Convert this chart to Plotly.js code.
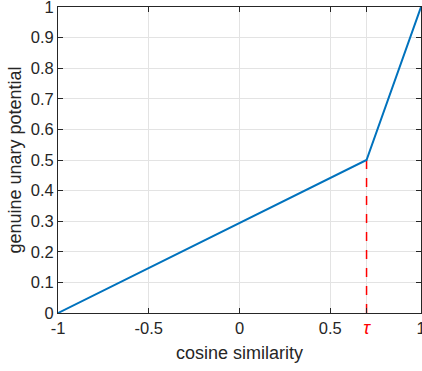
<!DOCTYPE html>
<html><head><meta charset="utf-8">
<script src="https://cdn.plot.ly/plotly-3.0.1.min.js"></script>
<style>body{margin:0;padding:0;background:#fff}</style>
</head><body>
<div id="chart" style="width:422px;height:371px"></div>
<script>
const xValues = [-1, 0.7, 1];
const yValues = [0, 0.5, 1];
const tauX = [0.7, 0.7];
const tauY = [0, 0.5];
const xTickVals = [-1, -0.5, 0, 0.5, 0.7, 1];
const xTickText = ['-1', '-0.5', '0', '0.5', '<span style="color:#ff0000;font-size:18px"><i>τ</i></span>', '1'];
const yTickVals = [0, 0.1, 0.2, 0.3, 0.4, 0.5, 0.6, 0.7, 0.8, 0.9, 1];
const yTickText = ['0', '0.1', '0.2', '0.3', '0.4', '0.5', '0.6', '0.7', '0.8', '0.9', '1'];

const FONT = 'Liberation Sans, Arial, sans-serif';
const axisCommon = {
  showline: true, linecolor: '#262626', linewidth: 1, mirror: 'ticks',
  ticks: 'inside', ticklen: 5, tickcolor: '#262626', tickwidth: 1,
  showgrid: true, gridcolor: '#e3e3e3', gridwidth: 1, zeroline: false,
  ticklabeloverflow: 'allow', automargin: false,
  tickfont: {family: FONT, size: 16.5, color: '#262626'}
};

Plotly.newPlot('chart', [
  {x: tauX, y: tauY, mode: 'lines', line: {color: '#ff0000', width: 1.5, dash: 'dash'}, hoverinfo: 'skip'},
  {x: xValues, y: yValues, mode: 'lines', line: {color: '#0072BD', width: 2}}
], {
  width: 422, height: 371,
  margin: {l: 58, r: 1, t: 7, b: 58},
  showlegend: false,
  paper_bgcolor: '#fff', plot_bgcolor: '#fff',
  xaxis: Object.assign({}, axisCommon, {
    range: [-1, 1], tickvals: xTickVals, ticktext: xTickText,
    title: {text: 'cosine similarity', standoff: 9, font: {family: FONT, size: 18, color: '#262626'}}
  }),
  yaxis: Object.assign({}, axisCommon, {
    range: [0, 1], tickvals: yTickVals, ticktext: yTickText,
    title: {text: 'genuine unary potential', standoff: 4, font: {family: FONT, size: 18, color: '#262626'}}
  })
}, {displayModeBar: false, staticPlot: true});
</script>
</body></html>
